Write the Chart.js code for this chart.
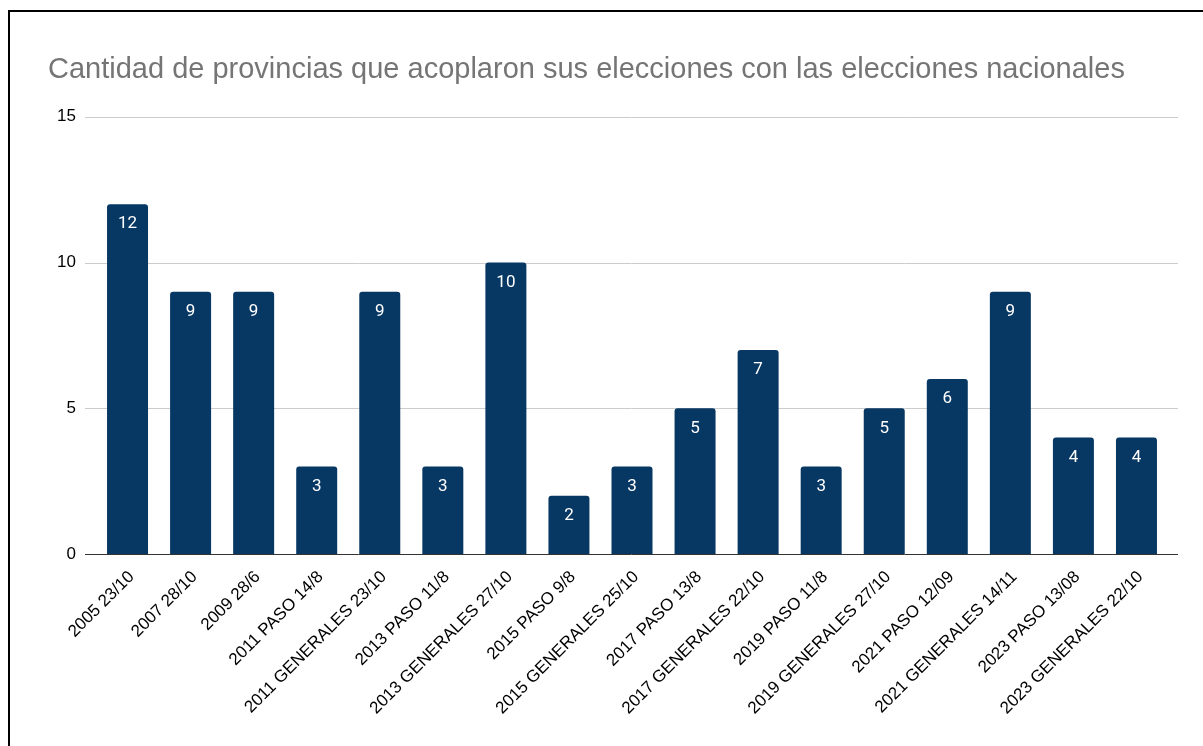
<!DOCTYPE html>
<html>
<head>
<meta charset="utf-8">
<script src="https://cdn.jsdelivr.net/npm/chart.js@4.4.0/dist/chart.umd.min.js"></script>
<style>
  body { margin: 0; background: #fff; }
  #wrap { position: relative; width: 1203px; height: 746px; overflow: hidden; }
  #frame { position: absolute; left: 8px; top: 10px; right: -10px; bottom: -10px;
           border-top: 2px solid #000; border-left: 2px solid #000; }
  canvas { position: absolute; left: 0; top: 0; }
</style>
</head>
<body>
<div id="wrap">
  <div id="frame"></div>
  <canvas id="grafico" width="1203" height="746"></canvas>
</div>
<script>
// datos
const titulo = "Cantidad de provincias que acoplaron sus elecciones con las elecciones nacionales";
const fechas = [
  "2005 23/10", "2007 28/10", "2009 28/6", "2011 PASO 14/8", "2011 GENERALES 23/10",
  "2013 PASO 11/8", "2013 GENERALES 27/10", "2015 PASO 9/8", "2015 GENERALES 25/10",
  "2017 PASO 13/8", "2017 GENERALES 22/10", "2019 PASO 11/8", "2019 GENERALES 27/10",
  "2021 PASO 12/09", "2021 GENERALES 14/11", "2023 PASO 13/08", "2023 GENERALES 22/10"
];
const provincias = [12, 9, 9, 3, 9, 3, 10, 2, 3, 5, 7, 3, 5, 6, 9, 4, 4];
const ticksY = [0, 5, 10, 15];

const fuente = "Arial, 'Liberation Sans', sans-serif";

// lineas de la grilla mas largas que el area, como en Sheets
const grillaPlugin = {
  id: "grilla",
  beforeDatasetsDraw(chart) {
    const { ctx, chartArea, scales } = chart;
    ctx.save();
    ctx.lineWidth = 1;
    ctx.strokeStyle = "#cccccc";
    scales.y.ticks.forEach(t => {
      if (t.value === 0) return;
      const py = Math.round(scales.y.getPixelForValue(t.value)) + 0.5;
      ctx.beginPath();
      ctx.moveTo(chartArea.left - 11, py);
      ctx.lineTo(chartArea.right + 10, py);
      ctx.stroke();
    });
    ctx.restore();
  },
  afterDatasetsDraw(chart) {
    const { ctx, chartArea, scales } = chart;
    ctx.save();
    // eje en cero
    const py0 = Math.round(scales.y.getPixelForValue(0)) + 0.5;
    ctx.strokeStyle = "#333333";
    ctx.beginPath();
    ctx.moveTo(chartArea.left - 11, py0);
    ctx.lineTo(chartArea.right + 10, py0);
    ctx.stroke();
    // etiquetas dentro de las barras
    ctx.fillStyle = "#ffffff";
    ctx.font = "17px Roboto";
    ctx.textAlign = "center";
    ctx.textBaseline = "middle";
    chart.getDatasetMeta(0).data.forEach((bar, i) => {
      ctx.fillText(provincias[i], bar.x, bar.y + 20);
    });
    ctx.restore();
  }
};

const ctx = document.getElementById("grafico").getContext("2d");
const miGrafico = new Chart(ctx, {
  type: "bar",
  data: {
    labels: fechas,
    datasets: [{
      data: provincias,
      backgroundColor: "#073763",
      borderRadius: 3,
      barPercentage: 0.65,
      categoryPercentage: 1
    }]
  },
  options: {
    responsive: false,
    animation: false,
    layout: { padding: { left: 48, right: 35, top: 0, bottom: 0 } },
    plugins: {
      legend: { display: false },
      tooltip: { enabled: false },
      title: {
        display: true,
        text: titulo,
        align: "start",
        color: "#757575",
        font: { family: fuente, size: 29, weight: "normal" },
        padding: { top: 53, bottom: 29 }
      }
    },
    scales: {
      x: {
        grid: { display: false, drawTicks: false },
        border: { display: false },
        ticks: {
          color: "#000",
          font: { family: fuente, size: 17 },
          maxRotation: 45,
          minRotation: 45,
          autoSkip: false,
          padding: 13,
          labelOffset: 4
        },
        afterFit(scale) { scale.height = 192; }
      },
      y: {
        min: 0,
        max: 15,
        afterBuildTicks(scale) { scale.ticks = ticksY.map(v => ({ value: v })); },
        grid: { display: false, drawTicks: false },
        border: { display: false },
        ticks: {
          color: "#000",
          font: { family: fuente, size: 17 },
          padding: 20
        },
        afterFit(scale) { scale.width = 48; }
      }
    }
  },
  plugins: [grillaPlugin]
});
</script>
</body>
</html>
